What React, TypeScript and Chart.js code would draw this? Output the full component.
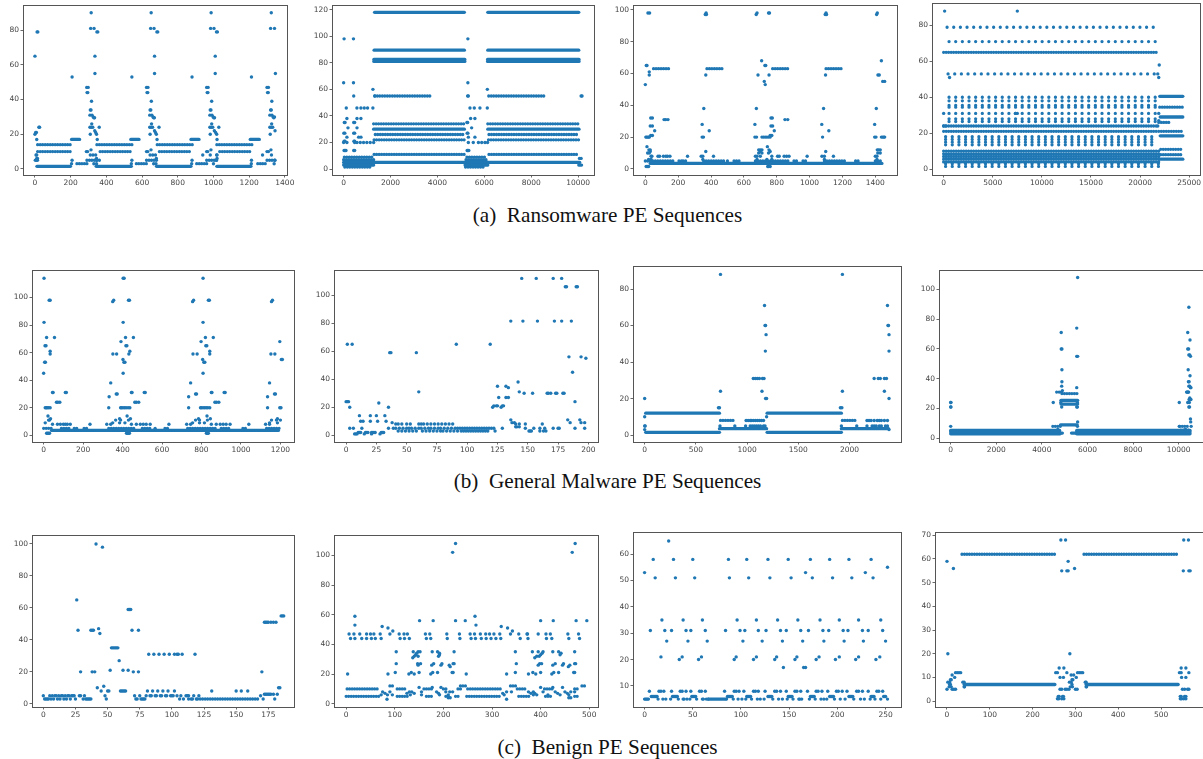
import React, { useEffect, useRef } from "react";
import { Chart, registerables } from "chart.js";

Chart.register(...registerables);

/* Every "level" list is [y, x, x, x ...]; every "row" list is [y, x0, x1, x0, x1 ...]
   meaning that y holds between those x values. */

// (a) Ransomware 1
const a1Dots = [
  [90, 315, 651, 987, 1324],
  [81, 312, 331, 648, 667, 984, 1003, 1320, 1342],
  [79, 12, 16, 347, 352, 683, 688, 1017, 1022],
  [65, 0, 336, 670, 1010],
  [55, 336, 670, 1010, 1347],
  [53, 208, 543, 880, 1213],
  [47, 290, 298, 625, 633, 962, 970, 1300, 1308],
  [44, 292, 296, 628, 632, 965, 969, 1303, 1307],
  [39, 317, 652, 990, 1327],
  [34, 310, 314, 645, 649, 982, 986, 1320, 1324],
  [31, 308, 320, 643, 655, 980, 992, 1316, 1328],
  [30, 326, 661, 998, 1334, 1342],
  [29.5, 330, 334, 665, 669, 1002, 1006, 1338],
  [26, 318, 653, 990, 1326],
  [24, 22, 26, 308, 316, 324, 360, 643, 651, 659, 695, 980, 988, 996, 1030, 1316, 1324, 1332],
  [22, 335, 670, 1005, 1345],
  [21, 4, 8, 340, 675, 1012],
  [20, 0, 310, 345, 645, 680, 982, 1018, 1318],
  [17, 10, 349, 684, 1020],
  [11, 314, 650, 986, 1322],
  [10, 288, 295, 625, 632, 962, 968, 1300, 1308],
  [8, 6, 10, 310, 325, 340, 645, 660, 675, 940, 982, 1018, 1020, 1275, 1325],
  [6, 10, 14, 345, 680, 1020],
  [5, 2, 8, 14, 208, 345, 543, 680, 880, 1015, 1213, 1345],
  [3, 205, 330, 345, 540, 665, 678, 878, 1000, 1212, 1340],
];
const a1Solid = [
  [1.5, 11, 199, 343, 540, 681, 874, 1019, 1210],
  [17, 205, 250, 537, 583, 874, 919, 1206, 1257],
];
const a1Dotted = [
  [14, 15, 208, 347, 550, 685, 884, 1019, 1220],
  [10, 15, 208, 365, 540, 697, 875, 1035, 1210],
  [3, 235, 296, 568, 625, 906, 966, 1248, 1300],
  [5, 291, 362, 625, 681, 962, 1019, 1300, 1350],
];

// (a) Ransomware 2
const a2Dots = [
  [98, 20, 420, 5300],
  [65, 0, 420, 5300],
  [60, 1250, 6130],
  [55, 430, 1330, 5290, 5320, 10130, 10170],
  [46, 113, 567, 737, 880, 1021, 1248, 5390, 5574, 5815, 6128],
  [38, 140, 570, 737, 5418, 5600],
  [35, 30, 60, 430, 470, 5260, 5290],
  [31, 185, 570, 5460],
  [27, 10, 50, 430, 470, 5270, 5300],
  [24, 140, 640, 740, 5320, 5600],
  [21, 20, 60, 440, 470],
  [20, 0, 140, 470, 570, 710, 850, 990, 1135, 1280, 5320, 5530, 5750, 5890, 6030, 6140],
  [14, 20, 60, 100, 430, 470, 5270, 5300, 5340],
  [8, 10060, 10130],
];
const a2Solid = [
  [118, 1320, 5150, 6150, 10030],
  [89.5, 1300, 5150, 6150, 10030],
  [81, 1290, 5170, 6140, 10040],
  [82.5, 1290, 5170, 6140, 10040],
  [30, 1280, 5150, 6150, 10040],
  [5, 1200, 5170, 6100, 10070],
  [3, 0, 1280, 5180, 6150, 10030, 10150],
  [5, 0, 1280, 5190, 6150],
];
const a2Dotted = [
  [55, 1330, 3750, 6190, 8600],
  [34, 1280, 5150, 6150, 10030],
  [26, 1350, 5150, 6200, 10030],
  [22, 1300, 5150, 6180, 10030],
  [11, 1300, 5150, 6200, 10000],
  [7, 0, 1280, 5220, 6150],
  [9, 30, 1230, 5260, 6090],
  [1.5, 50, 1200, 5200, 6000],
];

// (a) Ransomware 3
const a3Dots = [
  [98, 16, 26, 370, 680, 750, 756, 1100, 1412],
  [97, 365, 372, 675, 1095, 1103, 1408],
  [68, 708, 1437],
  [65, 6, 10, 728, 733],
  [61, 24],
  [59, 24, 368, 686, 753, 1097, 1416, 1424],
  [55, 724, 1445, 1457],
  [53, 0, 730],
  [38, 356, 676, 1085, 1406],
  [32, 33, 43, 765, 773],
  [31, 114, 124, 138, 850, 867],
  [28, 346, 667, 1074, 1396],
  [27, 30, 43, 765, 775],
  [24, 57, 389, 785, 1117],
  [21, 33, 43, 770, 760],
  [20, 3, 8, 15, 20, 25, 346, 354, 667, 677, 710, 720, 730, 740, 750, 760, 1079, 1396, 1404, 1437, 1445, 1452, 1457],
  [14, 10, 743],
  [12, 22, 30, 690, 700, 710, 753, 1412, 1420, 1430],
  [11, 30, 368, 700, 760, 1098],
  [10, 14, 24, 690, 710, 750, 1415, 1430],
  [8, 35, 40, 77, 87, 110, 125, 135, 150, 257, 340, 350, 415, 670, 680, 700, 770, 805, 815, 845, 860, 875, 985, 1075, 1090, 1145, 1400, 1410],
  [6, 20, 35, 350, 680, 740, 770, 1090, 1410],
  [1.5, 5, 12, 20, 745, 750, 760],
];
const a3Solid = [
  [3.5, 30, 1440],
];
const a3Dotted = [
  [63, 50, 150, 375, 470, 775, 875, 1100, 1200],
  [5, 0, 180, 205, 225, 230, 260, 355, 480, 500, 510, 540, 575, 670, 880, 905, 930, 960, 985, 1090, 1220, 1280, 1300, 1400, 1445],
];

// (a) Ransomware 4
const a4Dots = [
  [88, 100, 7500],
  [58, 21950],
  [53, 21800],
  [51, 21900, 600],
  [31, 0, 7300, 7500, 21900],
  [27, 21900],
  [24, 0, 200, 21800],
];
const a4Wide = [
  [79, 350, 21700],
  [71, 550, 21700],
  [53, 450, 21500],
  [40, 550, 21650],
  [38, 550, 21650],
  [35.5, 550, 21650],
  [34.5, 550, 21650],
  [31, 550, 21650],
  [28, 550, 21650],
  [26.5, 550, 21650],
  [18, 200, 21650],
  [16.5, 200, 21650],
  [15, 200, 21650],
  [13.5, 200, 21650],
  [3, 200, 21900],
  [1.5, 200, 21900],
];
const a4Solid = [
  [5.5, 21950, 24350],
  [40.5, 22000, 24350],
  [29, 22050, 24350],
  [18.5, 22050, 24350],
];
const a4Dotted = [
  [65, 0, 21700],
  [24, 0, 21800],
  [21, 0, 21800],
  [34.5, 22000, 24350],
  [26, 21900, 23000],
  [21, 21900, 24350],
  [11, 22100, 24300],
  [8, 22100, 24300],
  [10, 0, 21900],
  [8.5, 0, 21900],
  [7, 0, 21900],
  [5.5, 0, 21900],
  [4, 0, 21900],
];

// (b) General malware 1
const b1Dots = [
  [114, 2, 403, 408, 808],
  [98, 28, 33, 355, 430, 435, 760, 835, 840, 1160],
  [97, 350, 755, 1155],
  [82, 2, 403, 808],
  [71, 15, 55, 415, 455, 820, 860],
  [68, 392, 798, 1197],
  [65, 7, 12, 417, 422, 822, 827],
  [61, 33, 437, 842],
  [59, 33, 351, 370, 432, 757, 778, 842, 1152, 1172],
  [55, 402, 806, 1205, 1210],
  [53, 5, 9, 407, 412, 812, 817],
  [45, 0, 403, 808],
  [38, 340, 745, 1145],
  [31, 45, 48, 110, 115, 445, 448, 510, 515, 850, 853, 915, 920],
  [30, 368, 373, 770, 775, 1170, 1175],
  [28, 332, 735, 1135],
  [24, 65, 72, 82, 462, 470, 482, 868, 876, 888],
  [20, 8, 13, 18, 25, 33, 330, 390, 395, 402, 410, 418, 428, 437, 735, 795, 800, 808, 816, 824, 832, 842, 1135, 1197, 1203],
  [14, 22, 423, 828],
  [12, 35, 385, 440, 785, 845, 1185],
  [11, 25, 30, 365, 390, 430, 770, 790, 830, 1155, 1180, 1200],
  [9, 8, 350, 385, 412, 755, 790, 815, 1145, 1185],
  [8, 45, 70, 85, 100, 110, 120, 135, 235, 320, 340, 445, 470, 490, 505, 520, 540, 635, 725, 745, 850, 875, 895, 910, 925, 945, 1040, 1125, 1145],
  [1.5, 15, 20, 25, 30, 420, 425, 430, 435, 825, 830, 835],
];
const b1Solid = [
  [3.5, 40, 1190],
];
const b1Dotted = [
  [5, 0, 45, 90, 140, 155, 170, 205, 225, 330, 460, 500, 540, 565, 575, 615, 630, 730, 870, 900, 945, 1010, 1035, 1130, 1205],
];

// (b) General malware 2
const b2Dots = [
  [112, 145, 157, 171, 178],
  [106, 181, 182, 190, 191],
  [81.5, 136, 146, 158, 172, 178, 186],
  [65, 1, 5, 91, 119],
  [59, 36, 37, 58],
  [56, 184, 194],
  [55, 198],
  [45, 187],
  [38, 142],
  [35, 125, 132],
  [34, 134],
  [31, 60, 143],
  [30, 147, 154, 166, 167, 169, 173, 174, 179, 180],
  [27, 126, 132, 134],
  [24, 0, 1, 2, 189],
  [23, 27],
  [21, 122, 124, 125, 129, 130],
  [20, 3, 35, 121, 128],
  [14, 11, 20, 25, 32],
  [11, 136, 183, 193],
  [10, 12, 14, 20, 26, 33],
  [9, 38, 137, 139, 185, 194, 197],
  [8, 41, 43, 46, 50, 53, 60, 62, 64, 67, 70, 73, 76, 79, 82, 85, 88, 140, 143, 148, 162],
  [6, 140, 141, 143],
  [5, 3, 6, 13, 35, 39, 41, 44, 47, 50, 52, 54, 57, 60, 62, 65, 68, 70, 73, 76, 78, 81, 84, 87, 90, 92, 94, 96, 98, 100, 102, 104, 106, 108, 110, 112, 114, 116, 118, 120, 122, 129, 148, 155, 160, 164, 171, 175, 176, 189, 197],
  [3, 43, 46, 49, 52, 55, 58, 63, 66, 69, 72, 75, 78, 80, 83, 86, 89, 92, 95, 97, 99, 101, 103, 105, 107, 109, 111, 113, 115, 117, 123, 151, 152, 153, 160, 163, 165],
  [2, 10, 11, 12, 16, 17, 18, 21, 22, 23, 24, 29, 30, 31],
  [1, 7, 8, 9, 15, 21, 28],
];

// (b) General malware 3
const b3Dots = [
  [88, 740, 1930],
  [71, 1170, 2370],
  [60, 1175, 1180, 2375, 2380],
  [55, 1185, 2385],
  [46, 1178, 2385],
  [31, 1060, 1080, 1100, 1120, 1150, 1165, 2240, 2280, 2300, 2340, 2360],
  [24, 740, 1145, 1930, 2340],
  [20, 0, 1180, 1190, 2385],
  [15, 720, 730, 1910, 1925],
  [10, 0, 1190],
  [8, 990, 1010, 1030, 1040, 1060, 1080, 1100, 1120, 1140, 1160, 2170, 2190, 2210, 2240, 2270, 2290, 2310, 2340, 2370],
  [5, 0, 5, 735, 880, 985, 1030, 1050, 1070, 1090, 1110, 1130, 1160, 1175, 1920, 2070, 2170, 2220, 2240, 2260, 2290, 2310, 2350, 2370],
  [3, 0, 2385],
];
const b3Solid = [
  [12, 10, 730, 1195, 1920],
  [1.5, 10, 730, 1195, 1920],
  [3.5, 730, 1190, 1920, 2380],
];
const b3Dotted = [
  [8, 740, 880, 1930, 2070],
];

// (b) General malware 4
const b4Dots = [
  [108, 5570],
  [88, 10450],
  [74, 5530],
  [71, 4850, 10400],
  [66, 10500],
  [60, 4850, 4880, 10400, 10440],
  [56, 10450, 10490],
  [55, 5530, 5570, 10520],
  [46, 4880, 10420],
  [42, 10500],
  [38, 4880, 10430, 10460],
  [35, 4870, 10450, 10490],
  [34, 5530, 10520, 10540],
  [32, 4900],
  [31, 10350, 10370, 10400, 10420, 10440],
  [27, 10490],
  [26, 10460, 10500, 10540],
  [24, 0, 10, 4500, 4830, 5560, 10030, 10400, 10470],
  [21, 0, 10, 4870, 5530, 5560, 10450, 10480],
  [13, 10520],
  [11, 5570, 10530],
  [8, 0, 5560, 10030, 10550],
  [6, 4700, 10300],
];
const b4Solid = [
  [5.3, 0, 4780, 5530, 10500],
  [4.2, 0, 4780, 5530, 10500],
  [3, 0, 4800, 5530, 10500],
  [25.5, 4840, 5570],
  [23, 4840, 5570],
  [9, 4820, 5550],
  [3.5, 4780, 4900, 5300, 5530],
];
const b4Dotted = [
  [30, 4880, 5560],
  [31, 4650, 4880],
  [8, 4480, 4820, 10050, 10430],
  [5.5, 10100, 10530],
];

// (c) Benign 1
const c1Dots = [
  [100, 41],
  [98, 46],
  [65, 26],
  [59, 66, 67, 68],
  [55, 185, 186, 187],
  [51, 172, 173, 174, 175, 177, 179, 181],
  [47, 43],
  [46, 27, 37, 38, 39, 69, 74],
  [44, 44],
  [35, 53, 54, 55, 56, 57, 58],
  [31, 82, 86, 90, 94, 98, 102, 104, 105, 108, 118],
  [27, 59],
  [21, 52, 62, 66],
  [20, 29, 38, 40, 70, 74, 170],
  [11, 47],
  [10, 42, 183, 184],
  [8, 45, 50, 51, 60, 61, 62, 63, 64, 81, 85, 89, 93, 97, 102, 131, 150, 154, 159],
  [6, 172, 173, 174, 175, 176, 177, 179, 182],
  [5, 0, 5, 7, 9, 10, 12, 14, 15, 17, 19, 20, 22, 23, 24, 28, 29, 32, 48, 71, 75, 80, 83, 84, 87, 88, 91, 92, 95, 96, 99, 100, 101, 104, 107, 111, 112, 113, 117, 121, 169],
  [3, 1, 2, 3, 4, 6, 8, 11, 13, 16, 18, 21, 25, 31, 33, 34, 35, 36, 37, 49, 72, 73, 76, 77, 78, 79, 106, 109, 113, 115, 116, 119, 120, 171, 180],
];
const c1Dotted = [
  [3, 122, 168],
];

// (c) Benign 2
const c2Dots = [
  [108, 225, 471],
  [102, 219, 465],
  [59, 18, 265],
  [56, 151, 179, 225, 245, 400, 426, 473, 495],
  [53, 18, 267],
  [52, 74, 319],
  [51, 86, 332],
  [49, 96, 342],
  [47, 6, 16, 28, 42, 50, 57, 70, 90, 109, 119, 126, 163, 172, 207, 233, 255, 264, 276, 287, 295, 304, 316, 338, 355, 372, 373, 395, 411, 420, 456, 478],
  [44, 9, 18, 32, 42, 52, 60, 72, 111, 120, 130, 165, 174, 208, 234, 257, 266, 278, 288, 298, 308, 318, 358, 374, 412, 423, 458, 480],
  [35, 103, 138, 148, 152, 177, 188, 222, 348, 383, 395, 405, 425, 437, 470],
  [34, 145, 192, 403, 442],
  [33, 143, 192, 400, 440],
  [32, 140, 148, 190, 392, 397],
  [31, 137, 388],
  [27, 103, 147, 153, 180, 197, 220, 222, 350, 398, 402, 430, 447, 470, 472],
  [26, 148, 176, 195, 212, 395, 425, 445, 460],
  [25, 214, 457],
  [21, 101, 134, 150, 178, 188, 218, 220, 348, 384, 400, 427, 437, 468, 470],
  [20, 3, 86, 129, 140, 174, 247, 330, 375, 390, 423],
  [11, 150, 177, 195, 400, 425, 445],
  [8, 75, 90, 130, 135, 155, 186, 205, 213, 219, 330, 340, 375, 385, 405, 430, 450, 462, 470],
  [7, 80, 125, 140, 190, 322, 380, 388, 435, 455],
  [6, 72, 85, 95, 132, 155, 192, 210, 325, 385, 392, 415, 440, 458],
  [4, 210, 214, 458, 462],
  [3, 84, 330],
];
const c2Dotted = [
  [10, 2, 68, 105, 125, 160, 180, 200, 210, 230, 238, 250, 318, 352, 372, 408, 425, 470, 480],
  [5, 0, 70, 105, 130, 165, 180, 205, 215, 225, 235, 248, 318, 355, 380, 410, 425, 470, 480],
  [12, 90, 100, 235, 250, 338, 350, 485, 495],
];

// (c) Benign 3
const c3Dots = [
  [65, 25],
  [58, 9, 30, 50, 87, 106, 128, 149, 172, 192, 212, 235],
  [55, 252],
  [53, 0, 167, 229],
  [51, 11, 32, 52, 88, 108, 130, 152, 174, 195, 215, 237],
  [35, 18, 40, 60, 96, 116, 138, 159, 182, 202, 222, 245],
  [31, 6, 21, 28, 43, 48, 63, 84, 99, 104, 118, 126, 141, 147, 162, 170, 185, 191, 206, 211, 226, 232, 247],
  [27, 23, 45, 65, 102, 122, 143, 164, 186, 207, 227, 250],
  [21, 17, 39, 59, 95, 116, 137, 158, 181, 202, 222, 244],
  [20, 36, 56, 93, 113, 135, 156, 178, 198, 219, 240],
  [17, 144, 165, 167],
  [8, 5, 15, 17, 20, 28, 37, 39, 43, 48, 57, 59, 63, 83, 93, 95, 98, 103, 113, 115, 118, 125, 135, 137, 141, 147, 156, 158, 162, 169, 178, 180, 184, 190, 199, 201, 205, 210, 220, 222, 226, 232, 241, 243, 247],
  [6, 7, 8, 9, 10, 11, 12, 13, 29, 30, 31, 32, 33, 34, 49, 50, 51, 52, 53, 86, 87, 88, 89, 90, 91, 106, 107, 108, 109, 110, 128, 129, 130, 131, 132, 149, 150, 151, 152, 153, 172, 173, 174, 175, 176, 192, 193, 194, 195, 196, 212, 213, 214, 215, 216, 235, 236, 237, 238, 248, 249, 250],
  [5, 0, 1, 2, 3, 4, 14, 19, 22, 27, 35, 40, 41, 44, 47, 54, 60, 61, 64, 66, 85, 92, 97, 101, 105, 111, 117, 120, 124, 133, 139, 143, 148, 154, 160, 161, 163, 171, 177, 183, 186, 189, 197, 203, 208, 217, 224, 228, 234, 239, 245, 252],
];
const c3Solid = [
  [5, 66, 84],
];

// (c) Benign 4
const c4Dots = [
  [68, 266, 277, 553, 564],
  [59, 0, 283],
  [56, 15, 298],
  [55, 268, 280, 283, 552, 565, 568],
  [20, 2, 287],
  [14, 262, 273, 547, 558],
  [12, 20, 24, 28, 32, 254, 258, 280, 305, 309, 313, 317, 543, 547, 565],
  [11, 12, 290, 296],
  [10, 18, 264, 272, 302, 548, 558],
  [9, 8, 10, 292, 294],
  [8, 2, 6, 37, 40, 286, 290, 323, 325],
  [7, 6, 8, 292],
  [6, 5, 10, 40, 41, 288, 293, 325, 326],
  [5, 0, 12, 16, 20, 264, 268, 276, 280, 285, 300, 304, 550, 555, 562, 565],
  [2, 260, 262, 270, 272, 545, 547, 555, 558],
  [1, 258, 261, 268, 273, 545, 548, 553, 558],
];
const c4Solid = [
  [7, 40, 252, 325, 540],
];
const c4Dotted = [
  [62, 35, 255, 320, 540],
];

// Axis ticks
const xTicks1400 = [0, 200, 400, 600, 800, 1000, 1200, 1400];
const yTicks0to80 = [0, 20, 40, 60, 80];
const xTicks10000 = [0, 2000, 4000, 6000, 8000, 10000];
const yTicks0to120 = [0, 20, 40, 60, 80, 100, 120];
const yTicks0to100 = [0, 20, 40, 60, 80, 100];
const xTicks25000 = [0, 5000, 10000, 15000, 20000, 25000];
const xTicks1200 = [0, 200, 400, 600, 800, 1000, 1200];
const xTicks200 = [0, 25, 50, 75, 100, 125, 150, 175, 200];
const xTicks2000 = [0, 500, 1000, 1500, 2000];
const xTicks175 = [0, 25, 50, 75, 100, 125, 150, 175];
const xTicks500 = [0, 100, 200, 300, 400, 500];
const xTicks250 = [0, 50, 100, 150, 200, 250];
const yTicks10to60 = [10, 20, 30, 40, 50, 60];
const yTicks0to70 = [0, 10, 20, 30, 40, 50, 60, 70];

const captions = [
  { text: "(a)\u00a0\u00a0Ransomware PE Sequences", top: 203 },
  { text: "(b)\u00a0\u00a0General Malware PE Sequences", top: 469 },
  { text: "(c)\u00a0\u00a0Benign PE Sequences", top: 735 },
];

const panels = [
  { box: [23, 5, 287, 175], x: [-67, 1412], y: [-3.5, 94.5], xt: xTicks1400, yt: yTicks0to80, dots: a1Dots, solid: a1Solid, dotted: a1Dotted },
  { box: [332, 5, 594, 175], x: [-496, 10680], y: [-4.5, 123.5], xt: xTicks10000, yt: yTicks0to120, dots: a2Dots, solid: a2Solid, dotted: a2Dotted },
  { box: [633, 5, 897, 175], x: [-75, 1532], y: [-3.8, 103], xt: xTicks1400, yt: yTicks0to100, dots: a3Dots, solid: a3Solid, dotted: a3Dotted },
  { box: [932, 3, 1200, 175], x: [-1186, 26100], y: [-3.3, 92.5], xt: xTicks25000, yt: yTicks0to80, dots: a4Dots, solid: a4Solid, dotted: a4Dotted, wide: a4Wide, wideGap: 6.65 },
  { box: [32, 270, 294, 442], x: [-59, 1269], y: [-4.9, 120], xt: xTicks1200, yt: yTicks0to100, dots: b1Dots, solid: b1Solid, dotted: b1Dotted },
  { box: [334, 270, 598, 442], x: [-10, 208], y: [-4.8, 118], xt: xTicks200, yt: yTicks0to100, dots: b2Dots },
  { box: [633, 266, 901, 442], x: [-114, 2502], y: [-3.8, 92.6], xt: xTicks2000, yt: yTicks0to80, dots: b3Dots, solid: b3Solid, dotted: b3Dotted },
  { box: [939, 270, 1203, 442], x: [-513, 11070], y: [-2.5, 113], xt: xTicks10000, yt: yTicks0to100, dots: b4Dots, solid: b4Solid, dotted: b4Dotted },
  { box: [32, 535, 294, 707], x: [-8.8, 195], y: [-2, 105.6], xt: xTicks175, yt: yTicks0to100, dots: c1Dots, dotted: c1Dotted },
  { box: [334, 535, 598, 707], x: [-25, 518], y: [-2.2, 113.7], xt: xTicks500, yt: yTicks0to100, dots: c2Dots, dotted: c2Dotted },
  { box: [633, 532, 901, 707], x: [-12, 266], y: [2, 68.4], xt: xTicks250, yt: yTicks10to60, dots: c3Dots, solid: c3Solid },
  { box: [935, 532, 1203, 707], x: [-28, 598], y: [-2.5, 71.4], xt: [0, 100, 200, 300, 400, 500], yt: yTicks0to70, dots: c4Dots, solid: c4Solid, dotted: c4Dotted },
];

const BLUE = "#1f77b4";
const PAD_L = 27;
const PAD_T = 12;
const PAD_R = 30;
const PAD_B = 18;

function rowSets(rows: number[][] | undefined, dash: number[]) {
  const sets: any[] = [];
  (rows || []).forEach((r) => {
    for (let i = 1; i + 1 < r.length; i += 2) {
      sets.push({
        data: [
          { x: r[i], y: r[0] },
          { x: r[i + 1], y: r[0] },
        ],
        showLine: true,
        pointRadius: 0,
        borderColor: BLUE,
        borderWidth: 3.3,
        borderCapStyle: "round",
        borderDash: dash,
      });
    }
  });
  return sets;
}

const boxPlugin = {
  id: "box",
  afterDatasetsDraw(chart: any) {
    const { ctx, chartArea: a } = chart;
    ctx.save();
    ctx.strokeStyle = "#555";
    ctx.lineWidth = 1;
    ctx.strokeRect(Math.round(a.left) + 0.5, Math.round(a.top) + 0.5, Math.round(a.right - a.left), Math.round(a.bottom - a.top));
    ctx.restore();
  },
};

function Panel({ spec }: { spec: any }) {
  const ref = useRef<HTMLCanvasElement>(null);
  const [l, t, r, b] = spec.box;
  useEffect(() => {
    const dotData = spec.dots.flatMap((lv: number[]) => lv.slice(1).map((x) => ({ x, y: lv[0] })));
    const axis = (range: number[], tickValues: number[], horizontal: boolean) => ({
      type: "linear",
      min: range[0],
      max: range[1],
      grid: { display: true, drawOnChartArea: false, drawTicks: true, tickLength: 2.5, tickColor: "#444", lineWidth: 0.8 },
      border: { display: false },
      ticks: {
        color: "#444",
        font: { family: "DejaVu Sans", size: 7.5 },
        padding: 1.5,
        autoSkip: false,
        maxRotation: 0,
        callback: (v: number) => String(v),
      },
      afterBuildTicks: (s: any) => {
        s.ticks = tickValues.map((value) => ({ value }));
      },
      afterFit: (s: any) => {
        if (horizontal) s.height = PAD_B;
        else s.width = PAD_L;
      },
    });
    const chart = new Chart(ref.current as HTMLCanvasElement, {
      type: "scatter",
      data: {
        datasets: [
          ...rowSets(spec.solid, []),
          ...rowSets(spec.dotted, [0, 2.5]),
          ...rowSets(spec.wide, [0, spec.wideGap || 6]),
          { data: dotData, pointRadius: 1.7, pointBackgroundColor: BLUE, pointBorderWidth: 0, showLine: false },
        ],
      } as any,
      options: {
        animation: false,
        responsive: false,
        events: [],
        layout: { autoPadding: false, padding: { top: PAD_T, right: PAD_R, left: 0, bottom: 0 } },
        plugins: { legend: { display: false }, tooltip: { enabled: false } },
        scales: { x: axis(spec.x, spec.xt, true), y: axis(spec.y, spec.yt, false) } as any,
      },
      plugins: [boxPlugin],
    });
    return () => chart.destroy();
  }, [spec]);
  return (
    <canvas
      ref={ref}
      width={r - l + PAD_L + PAD_R}
      height={b - t + PAD_T + PAD_B}
      style={{ position: "absolute", left: l - PAD_L, top: t - PAD_T, filter: "blur(0.35px)" }}
    />
  );
}

export default function App() {
  return (
    <div style={{ position: "absolute", left: 0, top: 0, width: 1203, height: 759, overflow: "hidden", background: "#fff" }}>
      {panels.map((p, i) => (
        <Panel key={i} spec={p} />
      ))}
      {captions.map((c) => (
        <div
          key={c.text}
          style={{
            position: "absolute",
            left: 0,
            width: 1215,
            top: c.top,
            textAlign: "center",
            fontFamily: "'Liberation Serif', serif",
            fontSize: 21.2,
            lineHeight: "24px",
            color: "#111",
            whiteSpace: "nowrap",
          }}
        >
          {c.text}
        </div>
      ))}
    </div>
  );
}
